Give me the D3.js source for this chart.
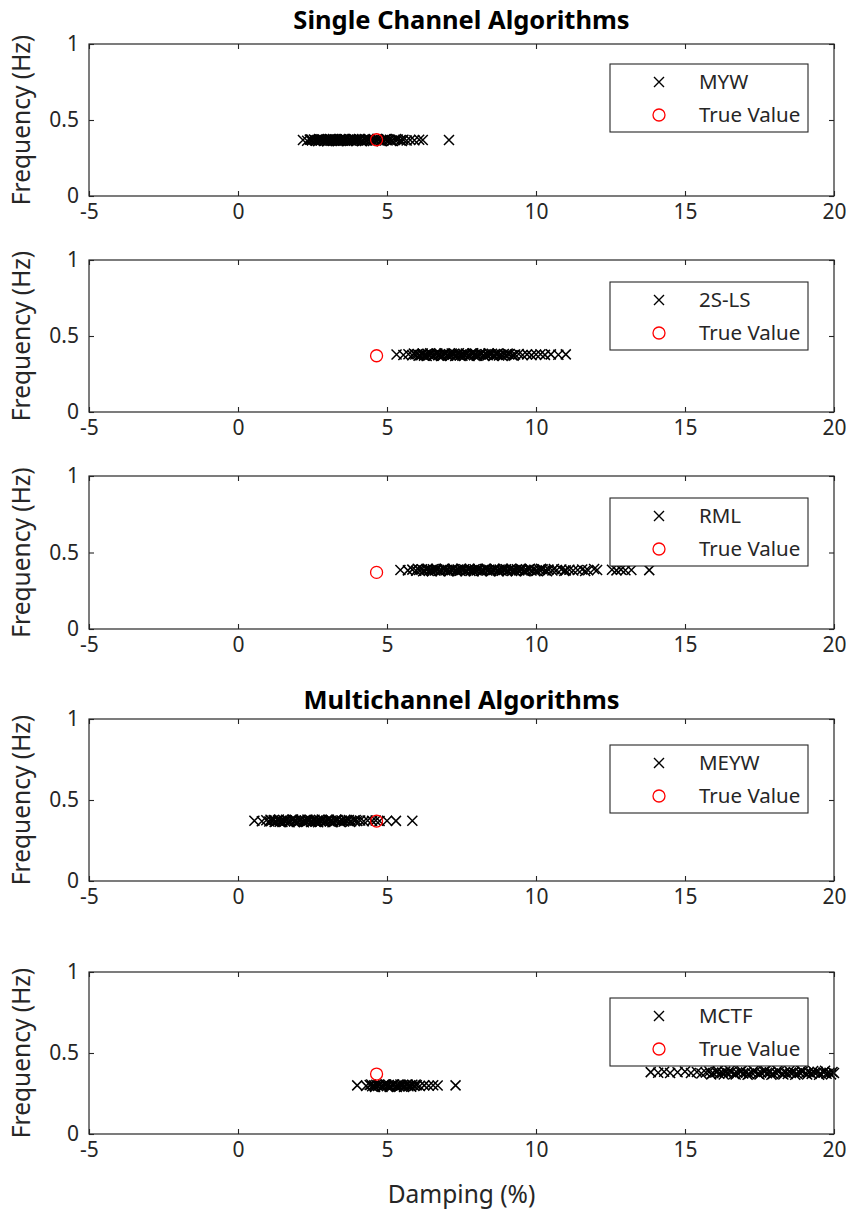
<!DOCTYPE html>
<html>
<head>
<meta charset="utf-8">
<script src="https://cdn.jsdelivr.net/npm/d3@7"></script>
<style>
  html, body { margin: 0; padding: 0; background: #fff; }
  svg { display: block; font-family: "Noto Sans", "Open Sans", sans-serif; }
</style>
</head>
<body>
<svg id="chart" width="846" height="1215"></svg>
<script>
// Estimated modes: [damping (%), frequency (Hz)]
const mywPoints = [[2.18,.368],[2.32,.364],[2.41,.371],[2.48,.366],[2.55,.372],[2.61,.363],[2.66,.369],[2.72,.374],[2.77,.365],[2.83,.370],[2.88,.362],[2.93,.368],[2.97,.373],[3.02,.366],[3.06,.371],[3.11,.364],[3.15,.369],[3.19,.375],[3.24,.363],[3.28,.367],[3.32,.372],[3.37,.365],[3.41,.370],[3.45,.362],[3.49,.368],[3.54,.374],[3.58,.366],[3.62,.371],[3.67,.364],[3.71,.369],[3.76,.373],[3.80,.365],[3.85,.370],[3.89,.363],[3.94,.368],[3.99,.372],[4.04,.366],[4.09,.371],[4.14,.364],[4.19,.369],[4.25,.374],[4.31,.365],[4.37,.370],[4.43,.363],[4.50,.368],[4.57,.372],[4.64,.366],[4.71,.371],[4.78,.364],[4.86,.369],[4.94,.373],[5.02,.366],[5.10,.370],[5.18,.364],[5.27,.369],[5.36,.372],[5.45,.366],[5.55,.370],[5.66,.365],[5.78,.369],[5.92,.367],[6.08,.370],[6.20,.368],[7.08,.369],
  [2.45,.372],[2.58,.367],[2.69,.361],[2.80,.373],[2.91,.366],[3.00,.361],[3.09,.374],[3.17,.366],[3.26,.372],[3.35,.361],[3.43,.374],[3.52,.363],[3.60,.375],[3.69,.362],[3.78,.368],[3.87,.375],[3.96,.362],[4.06,.374],[4.16,.361],[4.28,.368],[4.40,.375],[4.53,.362],[4.67,.375],[4.82,.361],[4.98,.374],[5.14,.362],[5.31,.375],[5.50,.362]];

const twoSlsPoints = [[5.32,.378],[5.55,.375],[5.72,.380],[5.85,.373],[5.95,.378],[6.03,.382],[6.10,.374],[6.17,.379],[6.24,.371],[6.30,.377],[6.36,.383],[6.42,.375],[6.48,.380],[6.54,.372],[6.60,.378],[6.66,.384],[6.72,.374],[6.78,.379],[6.84,.371],[6.90,.377],[6.96,.382],[7.02,.375],[7.08,.380],[7.14,.373],[7.20,.378],[7.26,.383],[7.32,.374],[7.38,.379],[7.44,.372],[7.50,.377],[7.56,.382],[7.62,.375],[7.68,.380],[7.74,.373],[7.80,.378],[7.86,.384],[7.92,.374],[7.98,.379],[8.04,.371],[8.10,.377],[8.17,.382],[8.24,.375],[8.31,.380],[8.38,.373],[8.45,.378],[8.52,.383],[8.60,.374],[8.68,.379],[8.76,.372],[8.84,.377],[8.92,.381],[9.00,.375],[9.10,.379],[9.20,.373],[9.30,.378],[9.42,.381],[9.55,.375],[9.70,.379],[9.85,.374],[10.00,.378],[10.15,.380],[10.30,.376],[10.50,.379],[10.75,.377],[11.00,.379],
  [5.90,.384],[6.06,.370],[6.20,.385],[6.33,.369],[6.45,.386],[6.57,.370],[6.69,.385],[6.81,.369],[6.93,.386],[7.05,.370],[7.17,.385],[7.29,.369],[7.41,.386],[7.53,.370],[7.65,.385],[7.77,.369],[7.89,.386],[8.01,.370],[8.13,.385],[8.27,.369],[8.41,.386],[8.56,.370],[8.72,.385],[8.88,.369],[9.05,.384],[9.25,.371]];

const rmlPoints = [[5.45,.386],[5.70,.383],[5.85,.388],[5.98,.381],[6.08,.386],[6.17,.390],[6.25,.382],[6.33,.387],[6.40,.380],[6.47,.385],[6.54,.391],[6.61,.383],[6.68,.388],[6.75,.381],[6.82,.386],[6.89,.392],[6.96,.382],[7.03,.387],[7.10,.380],[7.17,.385],[7.24,.390],[7.31,.383],[7.38,.388],[7.45,.381],[7.52,.386],[7.59,.391],[7.66,.382],[7.73,.387],[7.80,.380],[7.87,.385],[7.94,.390],[8.01,.383],[8.08,.388],[8.15,.381],[8.22,.386],[8.29,.392],[8.36,.382],[8.43,.387],[8.50,.380],[8.57,.385],[8.64,.390],[8.71,.383],[8.78,.388],[8.85,.381],[8.92,.386],[8.99,.391],[9.06,.382],[9.13,.387],[9.20,.380],[9.28,.385],[9.36,.390],[9.44,.383],[9.52,.388],[9.60,.381],[9.68,.386],[9.76,.391],[9.85,.382],[9.94,.387],[10.03,.381],[10.12,.386],[10.22,.390],[10.32,.383],[10.42,.388],[10.55,.382],[10.70,.386],[10.85,.389],[11.00,.383],[11.12,.387],[11.25,.382],[11.40,.386],[11.55,.389],[11.75,.384],[11.95,.392],[12.55,.387],[12.70,.383],[12.85,.388],[13.00,.384],[13.20,.386],[13.80,.385],
  [6.03,.393],[6.21,.378],[6.37,.394],[6.51,.378],[6.65,.393],[6.79,.377],[6.93,.394],[7.07,.378],[7.21,.393],[7.35,.377],[7.49,.394],[7.63,.378],[7.77,.393],[7.91,.377],[8.05,.394],[8.19,.378],[8.33,.393],[8.47,.377],[8.61,.394],[8.75,.378],[8.89,.393],[9.03,.377],[9.17,.394],[9.32,.378],[9.48,.393],[9.64,.377],[9.80,.394],[9.98,.378],[10.17,.393],[10.37,.378],[10.60,.392],[10.95,.380],[11.65,.379],[12.05,.386]];

const meywPoints = [[0.55,.372],[0.80,.369],[0.95,.375],[1.05,.367],[1.13,.372],[1.20,.377],[1.27,.368],[1.34,.373],[1.40,.366],[1.46,.371],[1.52,.376],[1.58,.369],[1.64,.374],[1.70,.367],[1.76,.372],[1.82,.378],[1.88,.368],[1.94,.373],[2.00,.366],[2.06,.371],[2.12,.376],[2.18,.369],[2.24,.374],[2.30,.367],[2.36,.372],[2.42,.377],[2.48,.368],[2.54,.373],[2.60,.366],[2.66,.371],[2.72,.376],[2.78,.369],[2.84,.374],[2.90,.367],[2.96,.372],[3.02,.377],[3.08,.368],[3.14,.373],[3.20,.366],[3.27,.371],[3.34,.376],[3.41,.369],[3.48,.374],[3.56,.367],[3.64,.372],[3.72,.376],[3.80,.369],[3.90,.373],[4.00,.370],[4.10,.374],[4.22,.369],[4.35,.373],[4.50,.371],[4.62,.374],[4.75,.370],[5.00,.372],[5.30,.371],[5.85,.372],
  [1.09,.378],[1.23,.364],[1.37,.379],[1.49,.364],[1.61,.378],[1.73,.363],[1.85,.379],[1.97,.364],[2.09,.378],[2.21,.363],[2.33,.379],[2.45,.364],[2.57,.378],[2.69,.363],[2.81,.379],[2.93,.364],[3.05,.378],[3.17,.363],[3.30,.379],[3.44,.364],[3.60,.378],[3.76,.365],[3.95,.377]];

const mctfPoints = [[4.00,.300],[4.30,.297],[4.42,.302],[4.50,.295],[4.57,.300],[4.64,.304],[4.70,.296],[4.76,.301],[4.82,.294],[4.88,.299],[4.94,.304],[5.00,.297],[5.06,.302],[5.12,.295],[5.18,.300],[5.24,.305],[5.30,.296],[5.36,.301],[5.42,.294],[5.48,.299],[5.54,.303],[5.60,.297],[5.66,.302],[5.72,.295],[5.78,.300],[5.85,.304],[5.92,.297],[6.00,.301],[6.10,.296],[6.25,.300],[6.40,.298],[6.55,.301],[6.70,.299],[7.30,.300],
  [4.47,.306],[4.60,.291],[4.73,.306],[4.85,.291],[4.97,.306],[5.09,.291],[5.21,.306],[5.33,.291],[5.45,.306],[5.57,.291],[5.69,.306],[5.81,.292],[5.96,.305],
  [13.85,.382],[14.10,.378],[14.30,.384],[14.50,.376],[14.75,.381],[15.00,.386],[15.20,.377],[15.40,.383],[15.55,.374],[15.70,.380],[15.82,.386],[15.94,.376],[16.05,.382],[16.15,.372],[16.25,.379],[16.35,.385],[16.45,.375],[16.55,.381],[16.65,.371],[16.75,.378],[16.85,.384],[16.95,.374],[17.05,.380],[17.15,.370],[17.25,.377],[17.35,.383],[17.45,.373],[17.55,.379],[17.65,.386],[17.75,.375],[17.85,.381],[17.95,.371],[18.05,.378],[18.15,.384],[18.25,.374],[18.35,.380],[18.45,.370],[18.55,.377],[18.65,.383],[18.75,.373],[18.85,.379],[18.95,.385],[19.05,.375],[19.15,.381],[19.25,.371],[19.35,.378],[19.45,.384],[19.55,.374],[19.65,.380],[19.75,.372],[19.85,.378],[19.95,.383],[20.00,.376],
  [15.88,.368],[16.10,.389],[16.30,.367],[16.50,.390],[16.70,.367],[16.90,.389],[17.10,.366],[17.30,.390],[17.50,.367],[17.70,.389],[17.90,.366],[18.10,.390],[18.30,.367],[18.50,.389],[18.70,.366],[18.90,.390],[19.10,.367],[19.30,.389],[19.50,.366],[19.70,.390],[19.90,.368]];

// Reference mode
const trueValue = [4.65, 0.37];

const seriesNames = ["MYW", "2S-LS", "RML", "MEYW", "MCTF"];
const seriesPoints = [mywPoints, twoSlsPoints, rmlPoints, meywPoints, mctfPoints];
const trueLabel = "True Value";

const xTicks = [-5, 0, 5, 10, 15, 20];
const yTicks = [0, 0.5, 1];
const groupTitles = ["Single Channel Algorithms", "Multichannel Algorithms"];
const xLabel = "Damping (%)";
const yLabel = "Frequency (Hz)";

// Layout of the five stacked axes
const left = 89, right = 834;
const panels = [
  { top: 44, bottom: 196 },
  { top: 260, bottom: 412 },
  { top: 476, bottom: 629 },
  { top: 719, bottom: 881 },
  { top: 972, bottom: 1134 }
];
const legendOffsets = [20, 22, 22, 26, 26];

const ink = "#262626";
const tickFont = "21px", legendFont = "20.5px", labelFont = "24.5px", titleFont = "25.5px";
const svg = d3.select("#chart");

const x = d3.scaleLinear().domain([-5, 20]).range([left, right]);

const crossPath = s => `M${-s},${-s}L${s},${s}M${-s},${s}L${s},${-s}`;
const crossHalf = 5;

panels.forEach((p, i) => {
  const y = d3.scaleLinear().domain([0, 1]).range([p.bottom, p.top]);
  const g = svg.append("g");

  const clipId = "clip" + i;
  g.append("clipPath").attr("id", clipId)
    .append("rect").attr("x", left - 6).attr("y", p.top).attr("width", right - left + 12).attr("height", p.bottom - p.top);

  const marks = g.append("g").attr("clip-path", `url(#${clipId})`);
  marks.selectAll("path.est").data(seriesPoints[i]).join("path")
    .attr("class", "est")
    .attr("transform", d => `translate(${x(d[0])},${y(d[1])})`)
    .attr("d", crossPath(crossHalf))
    .attr("stroke", "#000").attr("stroke-width", 1.5).attr("fill", "none");

  marks.append("circle")
    .attr("cx", x(trueValue[0])).attr("cy", y(trueValue[1])).attr("r", 6)
    .attr("fill", "none").attr("stroke", "#ff0000").attr("stroke-width", 1.3);

  // box axes with inward ticks
  const axB = d3.axisBottom(x).tickValues(xTicks).tickSize(-5).tickPadding(8).tickFormat(d => String(d));
  const axT = d3.axisTop(x).tickValues(xTicks).tickSize(-5).tickFormat("");
  const axL = d3.axisLeft(y).tickValues(yTicks).tickSize(-5).tickPadding(10).tickFormat(d => String(d));
  const axR = d3.axisRight(y).tickValues(yTicks).tickSize(-5).tickFormat("");

  const styleAxis = sel => {
    sel.select(".domain").remove();
    sel.selectAll(".tick line").attr("stroke", ink).attr("stroke-width", 1.1);
    sel.selectAll(".tick text").attr("fill", ink).style("font-size", tickFont).style("font-family", '"Noto Sans", sans-serif');
  };

  g.append("g").attr("transform", `translate(0,${p.bottom})`).call(axB).call(styleAxis);
  g.append("g").attr("transform", `translate(0,${p.top})`).call(axT).call(styleAxis);
  g.append("g").attr("transform", `translate(${left},0)`).call(axL).call(styleAxis);
  g.append("g").attr("transform", `translate(${right},0)`).call(axR).call(styleAxis);
  g.append("rect").attr("x", left).attr("y", p.top).attr("width", right - left).attr("height", p.bottom - p.top)
    .attr("fill", "none").attr("stroke", ink).attr("stroke-width", 1.2);

  // y label
  g.append("text")
    .attr("transform", `translate(30,${(p.top + p.bottom) / 2}) rotate(-90)`)
    .attr("text-anchor", "middle").attr("fill", ink)
    .style("font-size", labelFont)
    .text(yLabel);

  // legend
  const lx = 610, ly = p.top + legendOffsets[i], lw = 198, lh = 68;
  const lg = g.append("g");
  lg.append("rect").attr("x", lx).attr("y", ly).attr("width", lw).attr("height", lh)
    .attr("fill", "#fff").attr("stroke", ink).attr("stroke-width", 1.1);
  lg.append("path").attr("transform", `translate(${lx + 49},${ly + 18})`)
    .attr("d", crossPath(crossHalf)).attr("stroke", "#000").attr("stroke-width", 1.4).attr("fill", "none");
  lg.append("circle").attr("cx", lx + 49).attr("cy", ly + 51).attr("r", 6)
    .attr("fill", "none").attr("stroke", "#ff0000").attr("stroke-width", 1.3);
  lg.append("text").attr("x", lx + 89).attr("y", ly + 18).attr("dy", "0.35em")
    .attr("fill", ink).style("font-size", legendFont).text(seriesNames[i]);
  lg.append("text").attr("x", lx + 89).attr("y", ly + 51).attr("dy", "0.35em")
    .attr("fill", ink).style("font-size", legendFont).text(trueLabel);
});

// group titles
svg.append("text").attr("x", (left + right) / 2).attr("y", 20).attr("dy", "0.35em")
  .attr("text-anchor", "middle").attr("fill", "#000").style("font-size", titleFont).style("font-weight", "bold")
  .text(groupTitles[0]);
svg.append("text").attr("x", (left + right) / 2).attr("y", 700).attr("dy", "0.35em")
  .attr("text-anchor", "middle").attr("fill", "#000").style("font-size", titleFont).style("font-weight", "bold")
  .text(groupTitles[1]);

// x label
svg.append("text").attr("x", (left + right) / 2).attr("y", 1194).attr("dy", "0.35em")
  .attr("text-anchor", "middle").attr("fill", ink).style("font-size", labelFont)
  .text(xLabel);
</script>
</body>
</html>
